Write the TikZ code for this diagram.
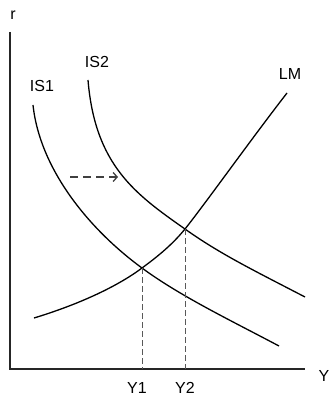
\documentclass[tikz,border=0pt]{standalone}
\usepackage{fontspec}
\setmainfont{Liberation Sans}
\usetikzlibrary{arrows.meta, positioning}

\begin{document}
\begin{tikzpicture}[
    x=1pt, y=-1pt,
    axis/.style={line width=1.3pt, black!85},
    curve/.style={line width=1.3pt, black},
    guide/.style={dash pattern=on 6pt off 3pt, line width=0.8pt, black!65},
    arr/.style={-{Straight Barb[length=4pt, width=9pt]}, dash pattern=on 8pt off 5pt,
                line width=1.3pt, black!75},
    lbl/.style={font=\fontsize{16}{18}\selectfont, anchor=base, inner sep=0pt},
]
\useasboundingbox (0,0) rectangle (333,395);

%% Axes
\coordinate (O)    at (10,369);
\coordinate (rtop) at (10,32);
\coordinate (yend) at (305,369);
\draw[axis] (rtop) -- (O) -- (yend);
\node[lbl] (r)  at (13,20)  {r};
\node[lbl] (Y)  at (324,381) {Y};

%% Equilibria
\coordinate (E1) at (142,268);
\coordinate (E2) at (185,229);
\coordinate (F1) at (142,369);
\coordinate (F2) at (185,369);

%% IS1, IS2, LM
\draw[curve] (33,105) .. controls (40,170) and (90,230) .. (E1)
                      .. controls (180,296) and (230,320) .. (279,346);
\draw[curve] (88,80) .. controls (95,165) and (135,194) .. (E2)
                     .. controls (220,254) and (255,271) .. (305,297);
\draw[curve] (34,318) .. controls (80,304) and (118,286) .. (E1)
                      .. controls (157,257) and (172,245) .. (E2)
                      .. controls (205,204) and (252,138) .. (287,93);

\node[lbl] (is1) at (42,92)  {IS1};
\node[lbl] (is2) at (97,68)  {IS2};
\node[lbl] (lm)  at (290,80) {LM};

%% Shift and guides
\coordinate (sfrom) at (70,177);
\coordinate (sto)   at (118,177);
\draw[arr] (sfrom) -- (sto);
\draw[guide] (E1) -- (F1);
\draw[guide] (E2) -- (F2);
\node[lbl] (y1) at (137,393) {Y1};
\node[lbl] (y2) at (185,393) {Y2};
\end{tikzpicture}
\end{document}
